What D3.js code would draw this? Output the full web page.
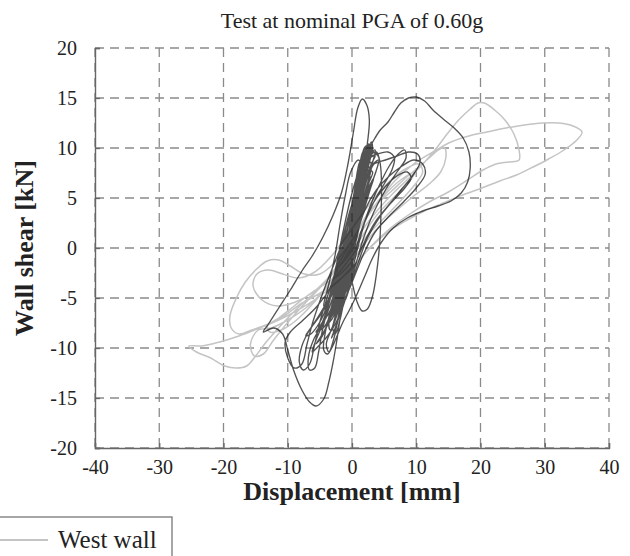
<!DOCTYPE html>
<html>
<head>
<meta charset="utf-8">
<script src="https://cdn.jsdelivr.net/npm/d3@7/dist/d3.min.js"></script>
<style>
  html, body { margin: 0; padding: 0; background: #fff; }
  svg { display: block; }
  text { font-family: "Liberation Serif", "DejaVu Serif", serif; fill: #222; }
</style>
</head>
<body>
<svg id="chart" width="630" height="556"></svg>
<script>
// Axis ticks
const xTicks = [-40, -30, -20, -10, 0, 10, 20, 30, 40];
const yTicks = [-20, -15, -10, -5, 0, 5, 10, 15, 20];

const titleText = "Test at nominal PGA of 0.60g";
const xLabel = "Displacement [mm]";
const yLabel = "Wall shear [kN]";
const legendLabel = "West wall";

// West wall hysteresis trace: [displacement mm, shear kN]
const westTrace = [
  [0,0],[1.2,2.0],[2.6,3.6],[4.2,4.6],[6.0,5.6],[8.0,6.8],[10.2,8.0],[12.0,9.0],[13.4,9.8],[14.4,10.0],
  [14.6,9.0],[13.8,7.6],[12.0,6.4],[9.6,5.2],[7.0,3.8],[4.6,2.4],[2.4,0.8],[0.4,-1.0],[-1.8,-2.6],[-4.2,-3.6],
  [-6.6,-4.6],[-9.0,-5.8],[-11.4,-7.0],[-13.2,-7.8],[-12.8,-8.4],[-11.0,-8.2],[-9.0,-7.4],[-7.0,-6.2],[-4.8,-4.6],
  [-2.6,-2.6],[-0.6,-0.4],[1.6,1.8],[4.0,3.8],[6.6,5.6],[9.2,7.2],[11.6,8.8],[13.4,10.2],[14.8,11.4],[16.6,12.8],
  [18.4,13.9],[19.6,14.5],[20.6,14.5],[22.2,13.8],[23.8,12.8],[25.2,11.4],[26.0,9.8],[26.0,8.8],[24.4,8.6],
  [22.4,8.4],[20.4,7.8],[18.0,6.8],[15.0,5.6],[12.0,4.6],[9.0,3.4],[6.0,2.0],[3.0,0.2],[0.4,-1.8],[-2.4,-3.4],
  [-5.2,-4.6],[-8.0,-5.6],[-10.6,-6.8],[-13.0,-7.6],[-15.6,-8.2],[-17.6,-8.6],[-18.8,-8.0],[-19.0,-6.8],
  [-18.0,-5.0],[-16.6,-3.4],[-15.0,-2.2],[-13.2,-1.3],[-11.4,-1.2],[-9.6,-1.8],[-7.4,-2.6],[-5.0,-2.6],
  [-2.6,-1.4],[-0.4,0.4],[1.8,2.6],[4.2,4.8],[6.8,6.8],[9.6,8.4],[12.6,9.6],[15.4,10.6],[18.2,11.2],[21.0,11.6],
  [24.0,12.0],[26.8,12.3],[29.6,12.5],[32.2,12.5],[34.4,12.2],[35.8,11.6],[35.0,10.8],[33.0,9.8],[30.6,8.9],
  [28.2,8.1],[25.6,7.3],[23.0,6.7],[20.2,6.0],[17.6,5.4],[14.6,4.6],[11.6,3.8],[8.6,2.8],[5.6,1.6],[2.8,0.0],
  [0.2,-1.8],[-2.6,-3.6],[-5.4,-5.0],[-8.4,-6.2],[-11.4,-7.2],[-14.4,-8.0],[-17.6,-8.8],[-20.6,-9.4],
  [-23.4,-9.8],[-25.4,-9.8],[-24.2,-10.4],[-22.0,-11.0],[-19.8,-11.8],[-18.0,-12.0],[-16.4,-11.8],[-15.0,-10.8],
  [-13.6,-9.6],[-12.0,-8.4],[-10.0,-7.0],[-7.8,-5.6],[-5.4,-4.2],[-3.0,-2.4],[-0.8,-0.2],[1.4,2.2],[3.6,4.2],
  [5.8,5.8],[8.0,7.0],[9.8,7.6],[8.6,6.4],[6.4,5.0],[4.0,3.4],[1.6,1.2],[-0.8,-1.0],[-3.4,-2.8],[-6.0,-4.4],
  [-8.8,-5.4],[-11.6,-5.8],[-14.0,-5.2],[-15.4,-3.8],[-14.8,-2.6],[-13.0,-2.2],[-10.8,-2.6],[-8.4,-3.0],
  [-5.8,-2.4],[-3.2,-0.8],[-0.8,1.2],[1.6,3.4],[4.0,5.4],[6.4,7.0],[8.6,8.0],[10.4,8.4],[11.0,7.6],[9.6,6.2],
  [7.4,4.6],[5.0,3.0],[2.6,1.4],[0.2,-0.6],[-2.2,-2.6],[-4.6,-4.4],[-7.2,-6.0],[-10.0,-7.2],[-12.6,-8.0],
  [-14.6,-8.2],[-15.8,-9.6],[-15.2,-10.8],[-13.8,-10.6],[-12.2,-9.2],[-10.2,-7.6],[-8.0,-6.0],[-5.6,-4.4],
  [-3.0,-2.6],[-0.4,-0.4],[0,0]
];

// East wall hysteresis trace: [displacement mm, shear kN]
const eastTrace = [
  [0,0],[0.6,2.5],[1.2,5.0],[1.6,7.5],[1.3,8.2],[0.6,6.0],[-0.2,2.5],[-0.9,-0.5],[-1.5,-3.0],[-1.8,-4.2],
  [-1.1,-3.2],[-0.3,-0.6],[0.5,2.2],[1.3,5.4],[2.0,8.6],[2.3,10.2],[1.9,10.0],[1.1,7.4],[0.3,4.0],[-0.6,0.6],
  [-1.4,-2.6],[-2.1,-5.0],[-1.5,-4.6],[-0.6,-1.8],[0.4,1.8],[1.0,4.6],[1.8,7.8],[2.4,9.6],[2.0,9.9],[1.2,7.2],
  [0.2,3.2],[-0.8,-0.6],[-1.8,-3.8],[-2.6,-6.2],[-1.8,-5.2],[-0.6,-1.5],[0.6,2.8],[1.8,6.4],[2.8,8.8],[3.2,10.0],
  [3.0,10.6],[2.4,9.6],[1.5,6.8],[0.4,3.0],[-0.6,-0.4],[-1.6,-3.4],[-2.4,-5.8],
  [-1.2,-3.8],[-0.2,-0.4],[0.8,3.5],[1.7,7.5],[2.4,10.5],[2.7,12.8],[2.3,14.3],[1.6,14.9],[0.9,14.0],[0.2,11.5],
  [-0.6,8.5],[-1.6,5.6],[-3.0,3.2],[-4.6,1.0],[-6.2,-0.8],[-7.8,-2.3],[-9.6,-4.2],[-11.4,-6.0],[-13.0,-7.6],
  [-13.8,-8.4],[-12.2,-8.0],[-10.8,-8.6],[-10.0,-10.2],[-9.1,-12.2],[-7.8,-14.2],[-6.6,-15.4],[-5.6,-15.8],
  [-4.4,-15.1],[-3.6,-13.4],[-3.0,-11.6],[-2.4,-9.4],[-1.8,-6.8],[-1.0,-3.4],[0.0,0.4],[1.0,4.2],[1.9,7.8],
  [2.6,9.8],[3.4,10.8],[4.4,11.8],[5.6,12.6],[6.6,13.6],[7.6,14.5],[8.8,15.0],[10.0,15.1],[11.3,14.7],
  [12.6,13.8],[14.2,12.9],[15.9,12.0],[17.3,11.0],[18.2,9.6],[18.4,8.0],[18.0,6.6],[17.0,5.5],[15.4,4.7],
  [13.4,4.2],[11.0,3.7],[8.6,3.0],[6.4,2.0],[4.6,0.6],[3.2,-1.0],[2.0,-2.8],[0.8,-4.6],[-0.4,-6.2],[-1.4,-7.4],
  [-2.2,-8.6],[-3.0,-9.8],[-3.8,-10.6],[-4.4,-10.2],[-4.2,-8.6],[-3.4,-6.4],[-2.4,-3.8],[-1.2,-0.6],[0.0,2.8],
  [1.2,6.0],[2.2,8.4],[2.6,9.0],[2.0,7.6],[1.0,4.8],[-0.2,1.4],[-1.6,-2.0],[-3.4,-4.8],[-5.2,-6.8],[-6.8,-8.4],
  [-7.8,-9.8],[-8.2,-11.4],[-7.6,-12.2],[-6.6,-11.6],[-5.8,-9.6],[-5.0,-7.4],[-3.8,-4.8],[-2.4,-2.0],[-1.0,1.2],
  [0.4,4.6],[1.6,7.4],[2.8,9.2],[3.8,9.6],[4.4,8.4],[4.6,6.0],[4.5,3.2],[4.3,0.4],[3.8,-2.6],[3.2,-4.8],
  [2.4,-6.1],[1.6,-6.3],[0.8,-5.4],[0.0,-3.4],[-0.8,-1.6],[-2.0,-4.0],[-3.2,-6.0],[-4.6,-7.6],[-6.0,-9.2],
  [-6.8,-11.0],[-6.6,-12.2],[-5.8,-12.0],[-5.2,-10.4],[-4.6,-8.2],[-3.6,-5.6],[-2.4,-2.6],[-1.2,0.6],[0.0,3.8],
  [1.4,6.8],[2.6,8.6],[1.6,6.4],[0.4,3.0],[-1.2,-0.8],[-3.2,-3.8],[-5.4,-5.8],[-7.6,-7.2],[-9.6,-8.4],
  [-10.4,-9.4],[-10.0,-11.0],[-9.0,-12.0],[-7.8,-11.6],[-7.0,-9.6],[-6.0,-7.2],[-4.6,-4.6],[-2.8,-1.6],
  [-1.0,1.4],[0.6,4.8],[2.0,7.6],[3.4,8.4],[5.2,8.8],[7.0,9.2],[8.8,9.6],[10.2,9.4],[10.6,8.6],[9.4,7.2],
  [7.6,5.8],[5.6,4.2],[3.6,2.6],[1.8,0.4],[0.4,-1.8],[-0.8,-3.6],[-1.6,-5.0],[-0.6,-2.4],[0.6,1.0],[2.0,3.8],
  [3.8,5.8],[5.8,7.2],[7.8,8.2],[9.6,8.8],[11.0,8.4],[11.4,7.4],[10.0,6.0],[8.0,4.6],[5.8,3.2],[3.6,1.6],
  [1.8,-0.6],[0.4,-2.8],[-0.8,-4.6],[-0.2,-2.0],[0.8,1.6],[1.6,5.0],[2.2,8.0],[2.6,9.6],[3.0,10.2],[2.6,9.0],
  [1.6,6.2],[0.6,2.6],[-0.4,-1.0],[-1.4,-4.0],[-2.2,-6.4],[-3.0,-8.0],[-2.6,-8.6],[-1.8,-7.0],[-0.9,-4.0],
  [0.1,-0.4],[1.1,3.4],[2.0,6.8],[2.4,8.0],[1.6,5.8],[0.6,2.2],[-0.4,-1.6],[-1.2,-4.4],[-1.0,-5.0],[-0.2,-2.6],
  [0.6,0.8],[1.2,3.8],[1.4,4.8],[0.8,3.0],[0.0,0.0],
  [0.8,3.2],[1.5,6.4],[2.1,9.2],[1.7,9.6],[0.9,7.0],[0.0,3.6],[-0.9,0.2],[-1.9,-3.2],[-2.9,-6.2],[-3.4,-7.0],
  [-2.6,-5.6],[-1.6,-2.6],[-0.6,0.8],[0.4,4.0],[1.2,7.0],[1.6,8.8],[1.2,8.6],[0.4,5.8],[-0.6,2.2],[-1.6,-1.4],
  [-2.6,-4.8],[-3.8,-7.6],[-4.6,-8.6],[-3.6,-7.4],[-2.4,-4.6],[-1.2,-1.4],[-0.2,2.0],[0.8,5.4],[1.6,8.4],
  [2.2,9.8],[1.8,9.4],[0.8,6.2],[-0.2,2.6],[-1.2,-1.0],[-2.2,-4.4],[-3.4,-7.2],[-5.0,-9.0],[-5.6,-9.6],
  [-4.6,-8.8],[-3.2,-6.4],[-1.8,-3.2],[-0.6,0.2],[0.4,3.6],[1.4,7.0],[2.0,9.0],[2.6,10.4],[2.2,10.0],[1.2,7.0],
  [0.2,3.4],[-0.8,-0.2],[-1.8,-3.8],[-2.8,-6.8],[-2.0,-5.4],[-1.0,-2.4],[0.0,1.2],[0.9,4.6],[1.7,7.8],[2.5,9.4],
  [3.4,9.6],[4.2,9.0],[3.8,7.8],[2.8,6.0],[1.6,3.4],[0.6,0.6],[-0.4,-2.2],[-1.4,-5.0],[-2.4,-7.6],[-3.2,-9.0],
  [-2.4,-7.8],[-1.4,-5.0],[-0.4,-1.8],[0.6,1.8],[1.4,5.2],[2.2,8.2],[3.0,9.8],[2.8,10.4],[2.0,9.0],[1.0,5.6],
  [0.0,1.8],[-1.0,-1.8],[-2.0,-5.0],[-3.0,-7.8],[-4.0,-9.6],[-3.6,-10.4],[-2.8,-9.0],[-2.0,-6.4],[-1.0,-3.2],
  [0.0,0.2],[1.0,3.8],[1.8,6.8],[2.6,9.0],[4.0,9.4],[5.6,9.6],[6.6,9.0],[6.2,7.8],[5.0,6.4],[3.4,4.6],[2.0,2.6],
  [0.8,0.2],[-0.4,-2.6],[-1.2,-4.6],[0.2,-1.0],[1.6,2.0],[3.2,4.4],[5.0,6.0],[7.0,7.2],[8.6,7.6],[9.2,7.0],
  [8.2,6.0],[6.2,4.6],[4.2,3.0],[2.4,1.0],[1.0,-1.4],[-0.2,-3.6],[-1.0,-5.2],[0.0,-2.4],[1.2,0.8],[2.6,3.8],
  [4.2,6.2],[5.8,8.2],[7.2,9.4],[8.2,9.8],[8.4,9.0],[7.0,7.6],[5.2,5.8],[3.4,3.6],[1.8,1.0],[0.6,-1.6],
  [-0.6,-4.2],[-1.6,-6.2],[-2.6,-7.6],[-3.8,-8.8],[-5.2,-9.8],[-6.2,-10.4],[-5.6,-9.2],[-4.4,-7.4],[-3.0,-5.0],
  [-1.6,-2.2],[-0.4,1.0],[0.6,4.4],[1.4,7.2],[2.0,8.8],[1.4,7.6],[0.4,4.4],[-0.6,1.0],[-1.8,-2.0],[-3.2,-4.6],
  [-4.8,-6.6],[-6.4,-8.0],[-7.2,-8.8],[-6.4,-8.6],[-5.0,-7.4],[-3.6,-5.4],[-2.2,-2.8],[-1.0,0.2],[0.2,3.4],
  [1.2,6.4],[1.8,8.2],[1.2,6.8],[0.2,3.6],[-0.8,0.4],[-1.8,-2.8],[-2.8,-5.6],[-3.6,-7.4],[-3.4,-8.2],[-2.6,-7.2],
  [-1.6,-4.6],[-0.6,-1.4],[0.4,2.0],[1.2,5.0],[1.6,6.4],[1.0,5.0],[0.0,2.0],[-0.6,0.0],
  [-1.6,-1.6],[-3.0,-5.0],[-1.6,-1.6],[-0.2,2.0],[1.2,5.6],[2.4,8.6],[3.2,9.8],[2.6,10.0],[1.2,8.0],[-0.2,5.0],
  [-1.4,1.6],[-2.4,-1.6],[-3.4,-4.6],[-4.2,-6.6],[-3.2,-6.6],[-1.8,-3.6],[-0.4,-0.2],[1.0,3.4],[2.2,6.6],
  [3.4,9.0],[3.6,9.8],[2.8,9.4],[1.4,7.0],[0.0,4.0],[-1.0,1.0],[-2.0,-2.2],[-3.0,-5.4],[-2.2,-4.6],[-1.0,-1.6],
  [0.4,2.0],[1.8,5.6],[3.0,8.4],[3.6,9.2],[2.8,9.0],[1.4,6.8],[-0.2,4.0],[-1.4,1.0],[-2.4,-2.0],[-3.4,-5.0],
  [-4.6,-7.4],[-5.6,-8.4],[-4.2,-7.8],[-2.8,-5.4],[-1.4,-2.6],[0.0,0.6],[1.2,3.4],[2.4,6.2],[3.2,7.6],[2.6,7.8],
  [1.0,5.8],[-0.4,3.2],[-1.6,0.4],[-2.6,-2.4],[-3.6,-5.2],[-2.8,-4.2],[-1.6,-1.4],[-0.6,1.4],[0.6,4.8],
  [1.8,7.8],[1.0,8.8],[-0.2,7.6],[-1.0,5.4],[-1.8,2.6],[-2.6,-0.6],[-3.6,-3.6],[-4.4,-5.8],[-3.4,-5.0],
  [-2.0,-2.2],[-0.8,0.6],[0.6,3.6],[2.0,6.6],[3.0,8.2],[4.0,8.8],[3.2,8.2],[1.8,5.8],[0.4,3.2],[-1.0,0.2],
  [-2.2,-2.8],[-3.0,-4.6],[-2.0,-3.0],[-0.8,-0.4],
  [0.2,2.4],[1.0,5.2],[1.8,7.4],[2.8,8.6],[3.0,8.0],[2.2,6.0],[1.2,3.6],[0.2,1.0],[-0.8,-1.8],[-1.8,-4.4],
  [-2.8,-6.4],[-3.8,-7.6],[-3.0,-7.0],[-1.8,-4.8],[-0.8,-2.0],[0.2,1.2],[1.2,4.2],[2.0,6.6],[2.8,7.2],[2.2,5.4],
  [1.2,2.8],[0.2,-0.2],[-0.8,-3.0],[-1.8,-5.6],[-2.6,-6.8],[-1.6,-5.2],[-0.4,-2.4],[0.6,0.6],[1.6,3.6],[2.6,6.0],
  [3.4,7.0],[2.8,5.8],[1.6,3.2],[0.4,0.4],[-0.6,-2.2],[-1.4,-4.0],[-0.6,-2.0],[0,0]
];

const svg = d3.select("#chart");
const x = d3.scaleLinear().domain([-40, 40]).range([95, 609]);
const y = d3.scaleLinear().domain([-20, 20]).range([448, 48]);

// Dashed grid
const grid = svg.append("g").attr("stroke", "#8a8a8a").attr("stroke-width", 1.3)
  .attr("stroke-dasharray", "9,6").attr("fill", "none");
grid.selectAll("line.v").data(xTicks).join("line").attr("class", "v")
  .attr("x1", d => x(d)).attr("x2", d => x(d)).attr("y1", y(20)).attr("y2", y(-20));
grid.selectAll("line.h").data(yTicks).join("line").attr("class", "h")
  .attr("y1", d => y(d)).attr("y2", d => y(d)).attr("x1", x(-40)).attr("x2", x(40));

// Hysteresis traces
const line = d3.line().x(d => x(d[0])).y(d => y(d[1])).curve(d3.curveCatmullRom.alpha(0.5));
svg.append("path").datum(westTrace).attr("d", line)
  .attr("fill", "none").attr("stroke", "#c4c4c4").attr("stroke-width", 1.5).attr("stroke-linejoin", "round");
svg.append("path").datum(eastTrace).attr("d", line)
  .attr("fill", "none").attr("stroke", "#111").attr("stroke-opacity", 0.72).attr("stroke-width", 1.35).attr("stroke-linejoin", "round");

// Axes with inward ticks
const fmt = d => String(d);
const xAxis = svg.append("g").attr("transform", `translate(0,${y(-20)})`)
  .call(d3.axisBottom(x).tickValues(xTicks).tickFormat(fmt).tickSize(-5).tickPadding(12));
const yAxis = svg.append("g").attr("transform", `translate(${x(-40)},0)`)
  .call(d3.axisLeft(y).tickValues(yTicks).tickFormat(fmt).tickSize(-5).tickPadding(18));
[xAxis, yAxis].forEach(g => {
  g.select(".domain").attr("stroke", "#666").attr("stroke-width", 1.4);
  g.selectAll(".tick line").attr("stroke", "#666").attr("stroke-width", 1.3);
  g.selectAll(".tick text").attr("font-family", "Liberation Serif, serif").attr("font-size", 20).attr("fill", "#222");
});

// Title and axis labels
svg.append("text").attr("x", 352).attr("y", 28).attr("text-anchor", "middle")
  .attr("font-size", 22).text(titleText);
svg.append("text").attr("x", 352).attr("y", 500).attr("text-anchor", "middle")
  .attr("font-size", 26).attr("font-weight", "bold").text(xLabel);
svg.append("text").attr("transform", "translate(33,248) rotate(-90)").attr("text-anchor", "middle")
  .attr("font-size", 26).attr("font-weight", "bold").text(yLabel);

// Legend
const legend = svg.append("g");
legend.append("rect").attr("x", -40).attr("y", 517).attr("width", 212).attr("height", 80)
  .attr("fill", "#fff").attr("stroke", "#777").attr("stroke-width", 1.3);
legend.append("line").attr("x1", -10).attr("x2", 48).attr("y1", 540).attr("y2", 540)
  .attr("stroke", "#c4c4c4").attr("stroke-width", 2);
legend.append("text").attr("x", 58).attr("y", 548).attr("font-size", 25).text(legendLabel);
</script>
</body>
</html>
